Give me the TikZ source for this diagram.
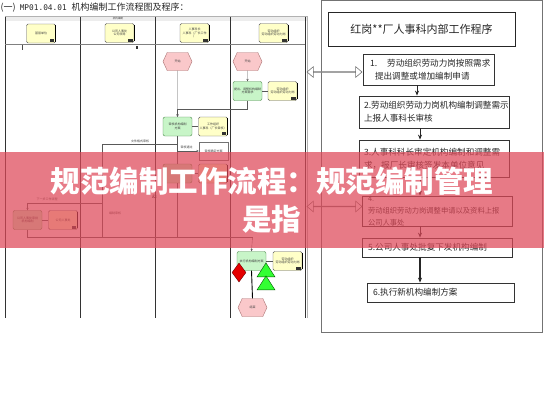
\documentclass[tikz,border=0pt]{standalone}
\usepackage{fontspec}
\newfontfamily\cjk{Noto Sans CJK SC}
\newfontfamily\monof{DejaVu Sans Mono}
\usetikzlibrary{shapes.geometric,shapes.symbols,shapes.arrows,arrows.meta}
\definecolor{ylw}{RGB}{255,255,200}
\definecolor{grn}{RGB}{200,245,200}
\definecolor{pnk}{RGB}{250,200,202}
\definecolor{bann}{RGB}{222,72,88}
\begin{document}
\begin{tikzpicture}[x=1pt,y=-1pt,
  tiny/.style={font=\cjk\fontsize{3}{3.6}\selectfont, text=black!75},
  ybox/.style={tiny, draw=black!65, fill=ylw, rounded corners=1.5pt, minimum width=29pt, minimum height=19pt, inner sep=0.5pt, align=center, line width=0.4pt},
  gbox/.style={tiny, draw=green!35!black!70, fill=grn, rounded corners=2pt, minimum width=29pt, minimum height=19pt, inner sep=0.5pt, align=center, line width=0.4pt},
  wbox/.style={tiny, draw=black!55, fill=white, minimum width=29pt, minimum height=18pt, inner sep=0.5pt, align=center, line width=0.4pt},
  hexa/.style={tiny, signal, signal to=east and west, signal pointer angle=130, draw=red!40!black!55, fill=pnk, minimum width=29pt, minimum height=18pt, inner sep=0pt, line width=0.4pt},
  lane/.style={draw=black!80, line width=0.6pt},
  link/.style={draw=black!65, line width=0.4pt},
  flow/.style={draw=black!65, line width=0.4pt, -{Stealth[length=2.4pt,width=2.2pt]}},
  stepbox/.style={draw=black!80, line width=0.8pt, fill=white, font=\cjk\fontsize{8.6}{12.8}\selectfont, text=black!85, align=left, inner sep=0pt},
  sarr/.style={draw=black!85, line width=0.8pt, -{Stealth[length=5pt,width=4pt]}},
  dbl/.style={double arrow, draw=black!55, fill=white, line width=0.6pt, minimum height=55pt, minimum width=9pt, double arrow head extend=5pt, double arrow tip angle=80, inner sep=0pt}
]
\useasboundingbox (0,0) rectangle (544,400);
\fill[white] (0,0) rectangle (544,400);

% title
\node[anchor=west, font=\cjk\fontsize{9}{10}\selectfont, text=black!85, inner sep=0] (ttl) at (0.5,7.5) {(一)\hspace{4pt}{\monof\fontsize{7.8}{10}\selectfont MP01.04.01}\hspace{5pt}机构编制工作流程图及程序：};

% ---------- left panel ----------
\fill[black!7] (5,16.5) rectangle (307,20.5);
\draw[black!30, line width=0.4pt] (5,16.5) -- (307,16.5) -- (307,318);
\node[tiny, font=\cjk\fontsize{2.6}{3}\selectfont] (toplbl) at (118,18.5) {机构编制};
\foreach \x in {5,80.5,155,230.5,305} \draw[lane] (\x,16.5) -- (\x,318);
\draw[black!50, line width=0.4pt] (5,44) -- (305,44);

% headers
\node[ybox] (hd1) at (41,33.5) {基层单位};
\node[ybox] (hd2) at (119.5,33) {公司人事处\\公司领导};
\node[ybox] (hd3) at (194.5,33) {人事科长\\人事科（厂长工作\\）};
\node[ybox] (hd4) at (273.5,33) {劳动组织\\劳动组织劳动力岗};
\foreach \n in {hd1,hd2,hd3,hd4}{
  \draw[black, line width=0.9pt] ([yshift=-1.5pt]\n.north east) -- ([yshift=1.5pt]\n.south east);
  \fill[black!80] ([xshift=-6pt,yshift=1pt]\n.south east) rectangle ([xshift=-1.5pt,yshift=4pt]\n.south east);
}
\fill[black!80] (136,45.5) rectangle (138,48.5);
\draw[black!70, line width=0.4pt] (22,45) -- (22,50);

% lane 3/4 upper flow
\node[hexa] (h3) at (177.5,61.5) {开始};
\node[hexa] (h4) at (247.5,61.5) {开始};
\node[gbox] (g4) at (247.5,91) {提出、调整机构编制\\方案需求};
\node[ybox] (y4) at (282.5,91) {劳动组织\\劳动组织劳动力岗};
\node[gbox] (g3) at (177.5,126.5) {审核机构编制\\方案};
\node[ybox] (y3) at (213,126.5) {工作组织\\人事科（厂长审核）};
\node[wbox] (w3) at (213.5,151) {审核确定方案};
\node[gbox] (g3b) at (177.5,173.5) {上报审核};
\node[ybox] (y3b) at (213,173.5) {厂长};
\node[gbox] (g1) at (27.5,220) {公司人事处审批\\机构编制};
\node[ybox] (y1) at (63,220) {公司人事处};
\node[gbox] (g5) at (251.5,261) {执行机构编制方案};
\node[ybox] (y5) at (287.5,261) {劳动组织\\劳动组织劳动力岗};
\node[hexa] (e) at (252.5,307.5) {结束};
\foreach \n in {y4,y3,y3b,y1,y5}{
  \draw[black, line width=0.9pt] ([yshift=-1.5pt]\n.north east) -- ([yshift=1.5pt]\n.south east);
  \fill[black!80] ([xshift=-6pt,yshift=1pt]\n.south east) rectangle ([xshift=-1.5pt,yshift=4pt]\n.south east);
}
\node[diamond, fill=red!90!black, draw=red!45!black, minimum width=14pt, minimum height=19pt, inner sep=0pt, line width=0.4pt] (dm) at (239,272.5) {};
\node[isosceles triangle, isosceles triangle stretches, shape border rotate=90, fill=green!80, draw=green!35!black, minimum height=14pt, minimum width=18pt, inner sep=0pt, line width=0.4pt] (t1) at (266,272) {};
\node[isosceles triangle, isosceles triangle stretches, shape border rotate=90, fill=green!80, draw=green!35!black, minimum height=14pt, minimum width=18pt, inner sep=0pt, line width=0.4pt] (t2) at (266,285) {};

\coordinate (br) at (177.5,144);
\coordinate (br2) at (177.5,151);
\coordinate (bl) at (102,237);
\coordinate (bm) at (102,203);
\coordinate (jn) at (252.5,237);

\draw[flow] (h3) -- (g3);
\draw[flow] (h4) -- (g4);
\draw[link] (g4) -- (y4);
\draw[flow] (g4.south) -- ++(0,8) -| (g3.north);
\draw[link] (g3) -- (y3);
\draw[link] (g3.south) -- (g3b.north);
\draw[link] (g3b) -- (y3b);
\draw[flow] (br2) -- (w3.west);
\draw[link] (br) -| (bl);
\draw[flow] (bm) -| (g1.north);
\draw[link] (g1) -- (y1);
\draw[link] (g3b.south) |- (jn);
\draw[link] (g1.south) |- (jn);
\draw[flow] (jn) -- (g5.north);
\draw[link] (g5) -- (y5);
\draw[black, line width=0.9pt] (g5.south) -- (e.north);

\node[tiny] (l1) at (140,141.5) {文件格式审核};
\node[tiny] (l2) at (186.5,147.5) {审核通过};
\node[tiny] (l3) at (47,199) {下一步工作流程};
\node[tiny] (l4) at (115,213) {编制审核};
\node[font=\fontsize{5}{5}\selectfont\bfseries, text=black!80, inner sep=0] (amp) at (154.5,197) {\&};

% ---------- right panel ----------
\draw[black!55, line width=0.6pt] (321,0) rectangle (542,332);
\node[draw=black!85, line width=0.8pt, minimum width=187pt, minimum height=34pt, inner sep=0pt, font=\cjk\fontsize{11}{12}\selectfont, text=black!85] (tb) at (421.5,29) {红岗**厂人事科内部工作程序};

\node[stepbox, minimum width=131pt, minimum height=31pt, text width=117pt] (s1) at (428.5,69.5) {1.\,　劳动组织劳动力岗按照需求\\\hspace*{5pt}提出调整或增加编制申请};
\node[stepbox, minimum width=150pt, minimum height=32pt, text width=140pt] (s2) at (434,112) {2.劳动组织劳动力岗机构编制调整需示\\上报人事科长审核};
\node[stepbox, minimum width=150pt, minimum height=37pt, text width=140pt] (s3) at (434,158.5) {3.人事科科长审定机构编制和调整需\\求，报厂长审核签发本单位意见};
\node[stepbox, minimum width=150pt, minimum height=30pt, text width=138pt, font=\cjk\fontsize{7.3}{12}\selectfont] (s4) at (437,211) {4. 劳动组织劳动力岗调整申请以及资料上报\\公司人事处};
\node[stepbox, minimum width=150pt, minimum height=19pt, text width=138pt] (s5) at (437,247.5) {5.公司人事处批复下发机构编制};
\node[stepbox, minimum width=147pt, minimum height=19pt, text width=135pt] (s6) at (440.5,292.5) {6.执行新机构编制方案};

\draw[sarr] ([xshift=-11.5pt]s1.south) -- ([xshift=-11.5pt]s1.south |- s2.north);
\draw[sarr] ([xshift=-14pt]s2.south) -- ([xshift=-14pt]s2.south |- s3.north);
\draw[sarr] ([xshift=-14pt]s3.south) -- ([xshift=-14pt]s3.south |- s4.north);
\draw[sarr] ([xshift=-17pt]s4.south) -- ([xshift=-17pt]s4.south |- s5.north);
\draw[sarr, line width=1.1pt] ([xshift=-17pt]s5.south) -- ([xshift=-17pt]s5.south |- s6.north);

\node[dbl] (da1) at (334.5,72) {};
\node[dbl] (da2) at (334.5,206.5) {};

% ---------- banner ----------
\fill[bann, opacity=0.72] (0,152) rectangle (544,248);
\node[font=\cjk\bfseries\fontsize{29.5}{38}\selectfont, text=white, align=center, inner sep=0pt] (ban) at (272,200) {规范编制工作流程：规范编制管理\\是指};
\end{tikzpicture}
\end{document}
